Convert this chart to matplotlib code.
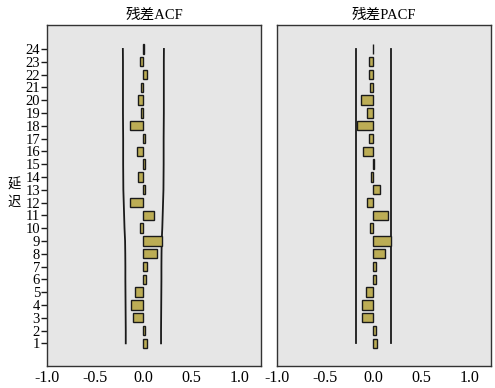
import matplotlib
matplotlib.use("Agg")
import matplotlib.pyplot as plt
import numpy as np

plt.rcParams['font.family'] = ['Liberation Serif', 'Noto Sans CJK SC', 'DejaVu Sans']

lags = list(range(1, 25))
acf = [0.035, 0.02, -0.11, -0.125, -0.085, 0.025, 0.04, 0.145, 0.19, -0.035,
       0.105, -0.135, 0.02, -0.055, 0.02, -0.07, 0.02, -0.135, -0.025, -0.06,
       -0.02, 0.035, -0.04, 0.01]
acf_bound = [0.183, 0.183, 0.184, 0.185, 0.186, 0.187, 0.187, 0.188, 0.190, 0.196,
             0.200, 0.204, 0.208, 0.209, 0.210, 0.210, 0.210, 0.211, 0.212, 0.212,
             0.212, 0.212, 0.212, 0.213]
pacf = [0.038, 0.025, -0.118, -0.118, -0.073, 0.028, 0.028, 0.118, 0.18, -0.035,
        0.15, -0.07, 0.073, -0.02, 0.003, -0.105, -0.048, -0.175, -0.07, -0.125,
        -0.038, -0.045, -0.042, -0.005]
pacf_bound = [0.185] * 24
titles = ['残差ACF', '残差PACF']
ylabel_chars = ['延', '迟']
xticks = [-1.0, -0.5, 0.0, 0.5, 1.0]

W, H = 495, 388
fig = plt.figure(figsize=(W / 100, H / 100), dpi=100)
bottom = 1 - 366 / H
height = (366 - 25) / H
ax1 = fig.add_axes([47 / W, bottom, (261 - 47) / W, height])
ax2 = fig.add_axes([277 / W, bottom, (491 - 277) / W, height])

barc = '#bcad55'
for ax, vals, bnd, title in [(ax1, acf, acf_bound, titles[0]), (ax2, pacf, pacf_bound, titles[1])]:
    ax.set_facecolor('#e6e6e6')
    ax.barh(lags, vals, height=0.74, color=barc, edgecolor='#1a1a1a', linewidth=1.0, zorder=3)
    ax.plot(bnd, lags, color='#1a1a1a', lw=1.3, zorder=2)
    ax.plot([-b for b in bnd], lags, color='#1a1a1a', lw=1.3, zorder=2)
    ax.set_xlim(-1.0, 1.22)
    ax.set_ylim(-0.77, 25.87)
    ax.set_xticks(xticks)
    ax.set_xticklabels(['%.1f' % t for t in xticks], fontsize=11.5)
    ax.tick_params(axis='x', length=0, pad=3)
    for s in ax.spines.values():
        s.set_color('#333333')
        s.set_linewidth(1.0)
    ax.set_title(title, fontsize=10.5, pad=4)

ax1.set_yticks(lags)
ax1.set_yticklabels([str(l) for l in lags], fontsize=10.5)
ax1.tick_params(axis='y', length=4, width=1, pad=1, color='#1a1a1a')
ax2.set_yticks([])

fig.text(14 / W, 1 - 185 / H, ylabel_chars[0], fontsize=9.5, ha='center', va='center',
         family=['Noto Sans CJK SC'])
fig.text(14 / W, 1 - 202 / H, ylabel_chars[1], fontsize=9.5, ha='center', va='center',
         family=['Noto Sans CJK SC'])

fig.savefig('out.png', dpi=100)
